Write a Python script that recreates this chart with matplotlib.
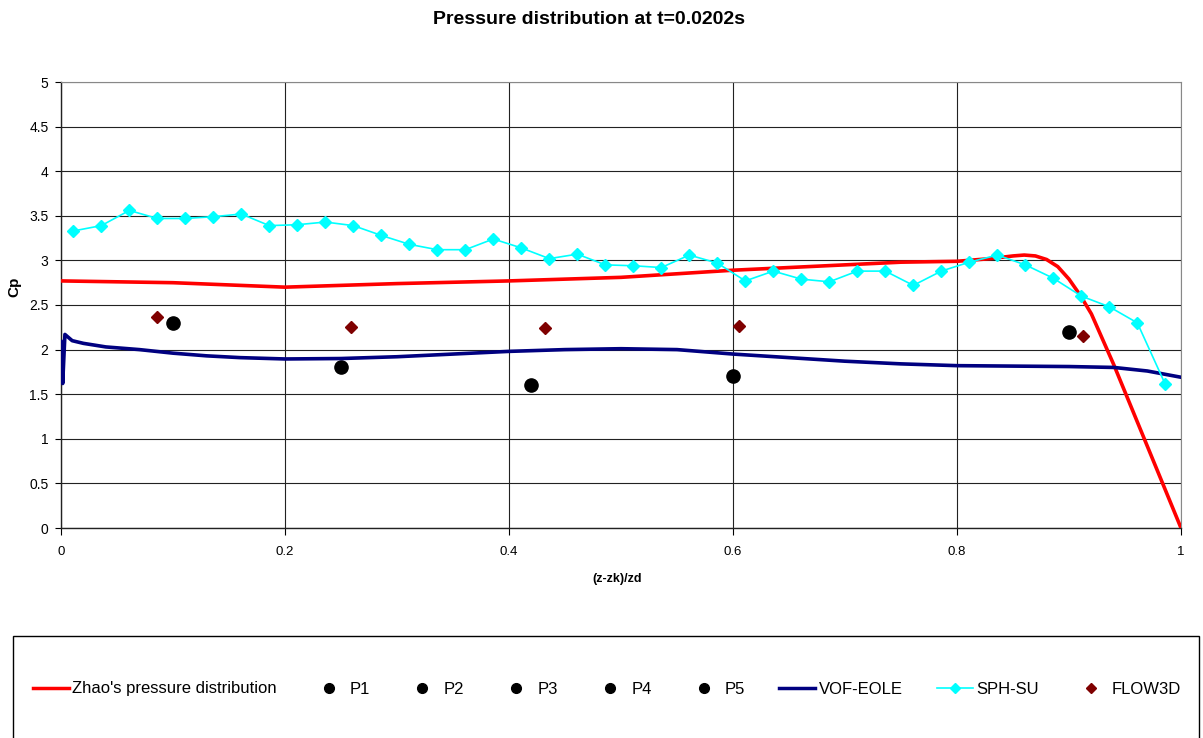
"""
Pressure distribution at t=0.0202s: Zhao's curve vs. probes, VOF-EOLE, SPH-SU and FLOW3D.
"""

import matplotlib
matplotlib.use("Agg")
import matplotlib.pyplot as plt
from matplotlib.lines import Line2D
from matplotlib.patches import Rectangle


plt.rcParams["font.family"] = ["Liberation Sans", "DejaVu Sans"]

# ── Data ──────────────────────────────────────────────────────────────────────

zhao_x = [0.0, 0.1, 0.2, 0.25, 0.3, 0.4, 0.5, 0.6, 0.7, 0.75, 0.8, 0.83,
          0.85, 0.86, 0.87, 0.88, 0.89, 0.9, 0.91, 0.92, 0.94, 0.96, 0.98, 1.0]
zhao_y = [2.77, 2.75, 2.70, 2.72, 2.74, 2.77, 2.81, 2.89, 2.95, 2.98, 2.99, 3.02,
          3.05, 3.06, 3.05, 3.01, 2.93, 2.79, 2.61, 2.40, 1.83, 1.22, 0.61, 0.0]

probe_names = ["P1", "P2", "P3", "P4", "P5"]
probe_x     = [0.10, 0.25, 0.42, 0.60, 0.90]
probe_y     = [2.30, 1.80, 1.60, 1.70, 2.20]

vof_x = [0.0, 0.0015, 0.0035, 0.01, 0.02, 0.04, 0.07, 0.1, 0.13, 0.16, 0.2,
         0.25, 0.3, 0.35, 0.4, 0.45, 0.5, 0.55, 0.6, 0.65, 0.7, 0.75, 0.8,
         0.85, 0.9, 0.94, 0.97, 1.0]
vof_y = [2.09, 1.62, 2.17, 2.10, 2.07, 2.03, 2.00, 1.96, 1.93, 1.91, 1.895,
         1.90, 1.92, 1.95, 1.98, 2.00, 2.01, 2.00, 1.95, 1.91, 1.87, 1.84, 1.82,
         1.815, 1.81, 1.80, 1.76, 1.69]

sph_x = [0.011, 0.036, 0.061, 0.086, 0.111, 0.136, 0.161, 0.186, 0.211, 0.236,
         0.261, 0.286, 0.311, 0.336, 0.361, 0.386, 0.411, 0.436, 0.461, 0.486,
         0.511, 0.536, 0.561, 0.586, 0.611, 0.636, 0.661, 0.686, 0.711, 0.736,
         0.761, 0.786, 0.811, 0.836, 0.861, 0.886, 0.911, 0.936, 0.961, 0.986]
sph_y = [3.33, 3.39, 3.56, 3.47, 3.47, 3.49, 3.52, 3.39, 3.40, 3.43,
         3.39, 3.28, 3.18, 3.12, 3.12, 3.24, 3.14, 3.02, 3.07, 2.95,
         2.94, 2.92, 3.06, 2.97, 2.77, 2.88, 2.79, 2.76, 2.88, 2.88,
         2.72, 2.88, 2.98, 3.06, 2.95, 2.80, 2.60, 2.48, 2.30, 1.61]

flow3d_x = [0.086, 0.259, 0.432, 0.605, 0.9125]
flow3d_y = [2.37, 2.25, 2.24, 2.26, 2.15]

x_ticks  = [0, 0.2, 0.4, 0.6, 0.8, 1]
x_labels = ["0", "0.2", "0.4", "0.6", "0.8", "1"]
y_ticks  = [0, 0.5, 1, 1.5, 2, 2.5, 3, 3.5, 4, 4.5, 5]
y_labels = ["0", "0.5", "1", "1.5", "2", "2.5", "3", "3.5", "4", "4.5", "5"]

# ── Style ─────────────────────────────────────────────────────────────────────

W, H     = 1203, 738
DPI      = 100
RED      = "#FF0000"
NAVY     = "#000080"
CYAN     = "#00FFFF"
DARK_RED = "#7F0000"


def main() -> None:
    fig = plt.figure(figsize=(W / DPI, H / DPI), dpi=DPI)
    ax = fig.add_axes([61 / W, 1 - 528 / H, 1120 / W, 446 / H])

    ax.plot(zhao_x, zhao_y, color=RED, lw=2.6, zorder=3,
            solid_capstyle="butt", label="Zhao's pressure distribution")
    for px, py in zip(probe_x, probe_y):
        ax.plot([px], [py], "o", color="black", ms=9.5, zorder=4)
    ax.plot(vof_x, vof_y, color=NAVY, lw=2.6, zorder=5, label="VOF-EOLE")
    ax.plot(sph_x, sph_y, color=CYAN, lw=1.2, marker="D", ms=6.5,
            mec=CYAN, zorder=6, label="SPH-SU")
    ax.plot(flow3d_x, flow3d_y, "D", color=DARK_RED, ms=6.5, zorder=7,
            label="FLOW3D")

    ax.set_xlim(0, 1)
    ax.set_ylim(0, 5)
    ax.set_xticks(x_ticks, x_labels)
    ax.set_yticks(y_ticks, y_labels)
    ax.tick_params(axis="x", direction="out", length=5, width=0.8,
                   pad=8, labelsize=9.5)
    ax.tick_params(axis="y", direction="out", length=4, width=0.8,
                   pad=5, labelsize=10)
    ax.grid(True, color="#222222", lw=0.8)
    ax.set_axisbelow(True)

    for side in ("top", "right"):
        ax.spines[side].set_color("#888888")
    for side in ("left", "bottom"):
        ax.spines[side].set_color("#222222")
        ax.spines[side].set_linewidth(1.0)

    ax.set_xlabel("(z-zk)/zd", fontsize=9, fontweight="bold")
    ax.xaxis.set_label_coords((617 - 61) / 1120, (528 - 573) / 446)
    ax.set_ylabel("Cp", fontsize=11, fontweight="bold")
    ax.yaxis.set_label_coords((21 - 61) / 1120, (528 - 287) / 446)

    fig.text(589 / W, 1 - 20 / H, "Pressure distribution at t=0.0202s",
             ha="center", va="center", fontsize=14, fontweight="bold")

    # legend: frame drawn separately so it can run past the bottom edge
    fig.patches.append(Rectangle((13 / W, -0.02), (1199 - 13) / W,
                                 (738 - 636) / H + 0.02,
                                 transform=fig.transFigure, fill=False,
                                 edgecolor="black", lw=1.0))

    handles = [Line2D([], [], color=RED, lw=2.5)]
    handles += [Line2D([], [], ls="none", marker="o", color="black", ms=7)
                for _ in probe_names]
    handles += [Line2D([], [], color=NAVY, lw=2.5),
                Line2D([], [], color=CYAN, lw=1.2, marker="D", ms=5),
                Line2D([], [], ls="none", marker="D", color=DARK_RED, ms=5.5)]
    labels = ["Zhao's pressure distribution"] + probe_names + \
             ["VOF-EOLE", "SPH-SU", "FLOW3D"]

    fig.legend(handles, labels, loc="center", ncol=9, frameon=False,
               bbox_to_anchor=(607 / W, 1 - 689 / H), fontsize=12,
               handlelength=2.16, handletextpad=0.2, columnspacing=2.04,
               borderaxespad=0)

    fig.savefig("out.png", dpi=DPI)
    plt.close(fig)


if __name__ == "__main__":
    main()
